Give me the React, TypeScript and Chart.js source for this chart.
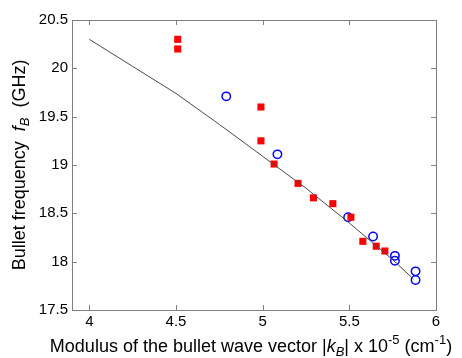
import React, { useEffect, useRef } from "react";
import { Chart, registerables } from "chart.js";

Chart.register(...registerables);

// Measured series (red squares)
const squaresX = [4.51, 4.51, 4.99, 4.99, 5.066, 5.204, 5.293, 5.405, 5.509, 5.578, 5.655, 5.705];
const squaresY = [20.3, 20.2, 19.6, 19.25, 19.01, 18.81, 18.66, 18.6, 18.46, 18.21, 18.16, 18.11];

// Second series (blue open circles)
const circlesX = [4.79, 5.085, 5.493, 5.637, 5.763, 5.763, 5.882, 5.882];
const circlesY = [19.71, 19.11, 18.46, 18.26, 18.06, 18.01, 17.9, 17.81];

// Theory curve
const curveX = [4.0, 4.25, 4.5, 4.75, 5.0, 5.25, 5.5, 5.75, 5.87];
const curveY = [20.3, 20.02, 19.74, 19.42, 19.09, 18.76, 18.4, 18.02, 17.82];

const xTicks = [4, 4.5, 5, 5.5, 6];
const yTicks = [17.5, 18, 18.5, 19, 19.5, 20, 20.5];

const FONT = "'Liberation Sans', Arial, sans-serif";

type Seg = { t: string; italic?: boolean; dy?: number; small?: boolean };

function drawRich(ctx: CanvasRenderingContext2D, segs: Seg[], cx: number, cy: number, size: number) {
  const fontFor = (s: Seg) =>
    `${s.italic ? "italic " : ""}${s.small ? Math.round(size * 0.7) : size}px ${FONT}`;
  let total = 0;
  for (const s of segs) {
    ctx.font = fontFor(s);
    total += ctx.measureText(s.t).width;
  }
  let x = cx - total / 2;
  ctx.textBaseline = "middle";
  ctx.textAlign = "left";
  for (const s of segs) {
    ctx.font = fontFor(s);
    ctx.fillText(s.t, x, cy + (s.dy || 0));
    x += ctx.measureText(s.t).width;
  }
}

const framePlugin = {
  id: "frameAndTitles",
  afterDraw(chart: any) {
    const { ctx, chartArea } = chart;
    const { left, right, top, bottom } = chartArea;
    const xs = chart.scales.x;
    const ys = chart.scales.y;
    ctx.save();
    ctx.strokeStyle = "#808080";
    ctx.lineWidth = 1;
    ctx.strokeRect(Math.round(left) + 0.5, Math.round(top) + 0.5, Math.round(right - left), Math.round(bottom - top));
    const tl = 5;
    ctx.beginPath();
    for (const v of xTicks) {
      const px = Math.round(xs.getPixelForValue(v)) + 0.5;
      ctx.moveTo(px, bottom);
      ctx.lineTo(px, bottom - tl);
      ctx.moveTo(px, top);
      ctx.lineTo(px, top + tl);
    }
    for (const v of yTicks) {
      const py = Math.round(ys.getPixelForValue(v)) + 0.5;
      ctx.moveTo(left, py);
      ctx.lineTo(left + tl, py);
      ctx.moveTo(right, py);
      ctx.lineTo(right - tl, py);
    }
    ctx.stroke();

    ctx.fillStyle = "#000";
    const size = 18;
    drawRich(
      ctx,
      [
        { t: "Modulus of the bullet wave vector |" },
        { t: "k", italic: true },
        { t: "B", italic: true, small: true, dy: 5 },
        { t: "| x 10" },
        { t: "-5", small: true, dy: -7 },
        { t: " (cm" },
        { t: "-1", small: true, dy: -7 },
        { t: ")" },
      ],
      251,
      347,
      size
    );
    ctx.save();
    ctx.translate(20, (top + bottom) / 2);
    ctx.rotate(-Math.PI / 2);
    drawRich(
      ctx,
      [
        { t: "Bullet frequency  " },
        { t: "f", italic: true },
        { t: "B", italic: true, small: true, dy: 5 },
        { t: "  (GHz)" },
      ],
      0,
      0,
      size
    );
    ctx.restore();
    ctx.restore();
  },
};

export default function App() {
  const ref = useRef<HTMLCanvasElement | null>(null);
  useEffect(() => {
    if (!ref.current) return;
    const chart = new Chart(ref.current, {
      type: "scatter",
      data: {
        datasets: [
          {
            type: "line",
            label: "theory",
            data: curveX.map((x, i) => ({ x, y: curveY[i] })),
            borderColor: "#4a4a4a",
            borderWidth: 1,
            pointRadius: 0,
            fill: false,
            tension: 0,
          } as any,
          {
            label: "squares",
            data: squaresX.map((x, i) => ({ x, y: squaresY[i] })),
            pointStyle: "rect",
            pointRadius: 5,
            backgroundColor: "#ff0000",
            borderColor: "#ff0000",
            borderWidth: 0,
          },
          {
            label: "circles",
            data: circlesX.map((x, i) => ({ x, y: circlesY[i] })),
            pointStyle: "circle",
            pointRadius: 4.2,
            backgroundColor: "rgba(0,0,0,0)",
            borderColor: "#0000ff",
            borderWidth: 1.5,
          },
        ],
      },
      options: {
        animation: false,
        responsive: false,
        layout: { padding: { left: 0, top: 20, right: 26, bottom: 0 } },
        plugins: { legend: { display: false }, tooltip: { enabled: false } },
        scales: {
          x: {
            type: "linear",
            min: 3.9,
            max: 6,
            afterBuildTicks: (s: any) => {
              s.ticks = xTicks.map((v) => ({ value: v }));
            },
            afterFit: (s: any) => {
              s.height = 48;
            },
            grid: { display: false, drawTicks: false },
            border: { display: false },
            ticks: {
              color: "#000",
              font: { family: FONT, size: 15 },
              padding: 3,
              maxRotation: 0,
              autoSkip: false,
              callback: (v: any) => String(v),
            },
          },
          y: {
            type: "linear",
            min: 17.5,
            max: 20.5,
            afterBuildTicks: (s: any) => {
              s.ticks = yTicks.map((v) => ({ value: v }));
            },
            afterFit: (s: any) => {
              s.width = 72;
            },
            grid: { display: false, drawTicks: false },
            border: { display: false },
            ticks: {
              color: "#000",
              font: { family: FONT, size: 15 },
              padding: 4,
              autoSkip: false,
              callback: (v: any) => String(v),
            },
          },
        },
      },
      plugins: [framePlugin],
    });
    return () => chart.destroy();
  }, []);
  return (
    <div style={{ position: "fixed", left: 0, top: 0, width: 462, height: 358, background: "#fff" }}>
      <canvas ref={ref} width={462} height={358} style={{ width: 462, height: 358 }} />
    </div>
  );
}
